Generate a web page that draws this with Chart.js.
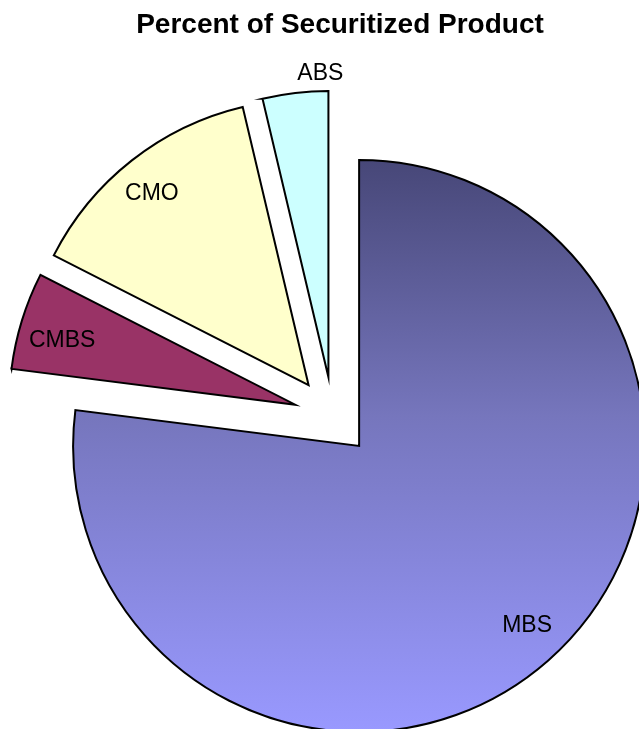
<!DOCTYPE html>
<html>
<head>
<meta charset="utf-8">
<script src="https://cdn.jsdelivr.net/npm/chart.js@4.4.1/dist/chart.umd.min.js"></script>
<style>
  html, body { margin: 0; padding: 0; background: #fff; }
  #wrap { width: 639px; height: 729px; }
</style>
</head>
<body>
<div id="wrap"><canvas id="pie"></canvas></div>
<script>
// data (percent of total)
const labels = ["MBS", "CMBS", "CMO", "ABS"];
const shares = [77.0, 5.5, 13.8, 3.7];
const sliceColors = [null, "#993366", "#ffffcc", "#ccffff"];

// where each label sits: fraction of radius, fraction along the arc
const labelRadius = [0.86, 0.845, 0.865, 1.06];
const labelAlong = [0.494, 0.41, 0.477, 0.885];

const RADIUS = 286;
const EXPLODE = 39.5;

const total = shares.reduce((a, b) => a + b, 0);

// vertical blue gradient for the big slice
const mbsFill = (ctx) => {
  const area = ctx.chart.chartArea;
  if (!area) return "#7777bb";
  const mid = -Math.PI / 2 + Math.PI * (shares[0] / total);
  const cy = (area.top + area.bottom) / 2 + Math.sin(mid) * EXPLODE;
  const g = ctx.chart.ctx.createLinearGradient(0, cy - RADIUS, 0, cy + RADIUS);
  g.addColorStop(0, "#474778");
  g.addColorStop(0.45, "#7676bd");
  g.addColorStop(1, "#9999ff");
  return g;
};

// pull every slice out from the centre along its bisector
const explodePlugin = {
  id: "explode",
  afterDatasetsUpdate(chart) {
    chart.getDatasetMeta(0).data.forEach((arc) => {
      const mid = (arc.startAngle + arc.endAngle) / 2;
      arc.x += Math.cos(mid) * EXPLODE;
      arc.y += Math.sin(mid) * EXPLODE;
    });
  },
};

const sliceLabels = {
  id: "sliceLabels",
  afterDatasetsDraw(chart) {
    const ctx = chart.ctx;
    ctx.save();
    ctx.font = '23px "Liberation Sans", Arial, sans-serif';
    ctx.fillStyle = "#000";
    ctx.textAlign = "center";
    ctx.textBaseline = "middle";
    chart.getDatasetMeta(0).data.forEach((arc, i) => {
      const a = arc.startAngle + (arc.endAngle - arc.startAngle) * labelAlong[i];
      const r = arc.outerRadius * labelRadius[i];
      ctx.fillText(labels[i], arc.x + Math.cos(a) * r, arc.y + Math.sin(a) * r);
    });
    ctx.restore();
  },
};

const data = {
  labels: labels,
  datasets: [
    {
      data: shares,
      backgroundColor: (ctx) => (ctx.dataIndex === 0 ? mbsFill(ctx) : sliceColors[ctx.dataIndex]),
      borderColor: "#000",
      borderWidth: 2,
      borderJoinStyle: "miter",
      radius: RADIUS,
      clip: false,
    },
  ],
};

const options = {
  responsive: true,
  maintainAspectRatio: false,
  animation: false,
  events: [],
  layout: {
    padding: { left: 41, right: 0, top: 0, bottom: 0 },
  },
  plugins: {
    // empty legend on the right, only to nudge the pie left of the title
    legend: {
      display: true,
      position: "right",
      maxWidth: 14,
      labels: { generateLabels: () => [] },
    },
    tooltip: { enabled: false },
    title: {
      display: true,
      text: "Percent of Securitized Product",
      color: "#000",
      font: { family: '"Liberation Sans", Arial, sans-serif', size: 28, weight: "bold" },
      padding: { top: 8, bottom: 62 },
    },
  },
};

new Chart(document.getElementById("pie"), {
  type: "pie",
  data: data,
  options: options,
  plugins: [explodePlugin, sliceLabels],
});
</script>
</body>
</html>
